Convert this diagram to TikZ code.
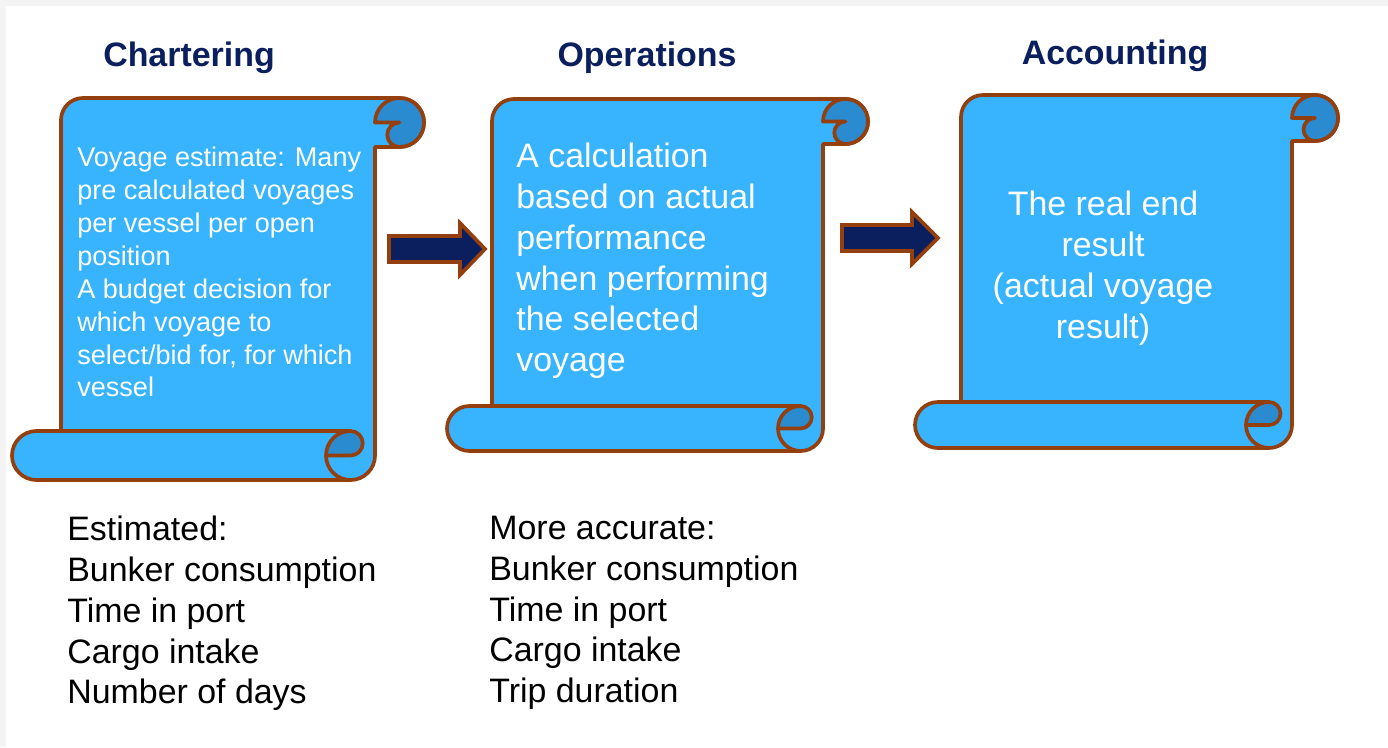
\documentclass[tikz,border=0pt]{standalone}
\usepackage{fontspec}
\setmainfont{Liberation Sans}
\usetikzlibrary{positioning}

\definecolor{scrollblue}{HTML}{38B3FE}
\definecolor{curlblue}{HTML}{2A8BD0}
\definecolor{rimbrown}{HTML}{943F0E}
\definecolor{navy}{HTML}{0B1F5E}
\definecolor{pagegray}{HTML}{F4F4F4}

% scroll: #1 roll left, #2 sheet left, #3 sheet right, #4 top, #5 bottom, #6 roll radius
\newcommand{\drawscroll}[6]{%
  \pgfmathsetmacro\scX{#1}\pgfmathsetmacro\scL{#2}\pgfmathsetmacro\scR{#3}%
  \pgfmathsetmacro\scT{-#4}\pgfmathsetmacro\scB{-#5}%
  \pgfmathsetmacro\scr{#6}\pgfmathsetmacro\sch{#6/2}%
  % sheet and rolls
  \path[scrollbody] (\scL,\scB+2*\scr) -- (\scL,\scT-22) arc (180:90:22)
    -- (\scR+\scr,\scT) arc (90:-90:\scr) -- (\scR,\scT-2*\scr) -- (\scR,\scB+\scr)
    arc (0:-90:\scr) -- (\scX+\scr,\scB) arc (270:90:\scr) -- cycle;
  \draw[scrollrim] (\scX+\scr,\scB+2*\scr) -- (\scR-\scr,\scB+2*\scr);
  % curl at the top
  \path[scrollcurl] (\scR,\scT-\scr) arc (180:-90:\scr) arc (-90:-270:\sch) -- cycle;
  % curl at the bottom
  \path[scrollcurl] (\scR-2*\scr,\scB+\scr) arc (180:90:\scr) arc (90:-90:\sch) -- cycle;
  \draw[scrollrim] (\scR-2*\scr,\scB+\scr) arc (180:270:\scr);
}

\begin{document}
\begin{tikzpicture}[x=0.02cm, y=0.02cm,
    scrollrim/.style={draw=rimbrown, line width=2.1pt, line join=round},
    scrollbody/.style={scrollrim, fill=scrollblue},
    scrollcurl/.style={scrollrim, fill=curlblue},
    blockarrow/.style={draw=rimbrown, line width=2.1pt, fill=navy},
    title/.style={text=navy, font=\bfseries\fontsize{19.3}{23}\selectfont, anchor=base},
    inscroll/.style={text=white, inner sep=0pt, align=left, anchor=north west},
    note/.style={text=black, inner sep=0pt, align=left, anchor=north west,
      font=\fontsize{19.3}{23.2}\selectfont}]
    \useasboundingbox (0,0) rectangle (1388,-747);
    \fill[pagegray] (0,0) rectangle (1388,-747);
    \fill[white] (6,-6) rectangle (1388,-747);

    % titles
    \node[title] (chart) at (189,-66) {Chartering};
    \node[title] (oper) at (647,-66) {Operations};
    \node[title] (acct) at (1115,-64) {Accounting};

    % scrolls
    \drawscroll{12}{61}{375}{98}{480}{24.5}
    \drawscroll{447}{492}{823}{99}{451}{22.5}
    \drawscroll{915}{961}{1292}{95}{448}{23}

    % block arrows
    \draw[blockarrow] (389,-236) -- (460,-236) -- (460,-223) -- (485,-249)
      -- (460,-275) -- (460,-262) -- (389,-262) -- cycle;
    \draw[blockarrow] (842,-225) -- (912,-225) -- (912,-212) -- (938,-238)
      -- (912,-264) -- (912,-251) -- (842,-251) -- cycle;

    % texts on the scrolls
    \node[inscroll, font=\fontsize{15.4}{18.7}\selectfont] (estimate) at (77,-147)
      {Voyage estimate: Many\\pre calculated voyages\\per vessel per open\\position\\A budget decision for\\which voyage to\\select/bid for, for which\\vessel};
    \node[inscroll, font=\fontsize{19.3}{23.2}\selectfont] (calc) at (516,-143)
      {A calculation\\based on actual\\performance\\when performing\\the selected\\voyage};
    \node[inscroll, align=center, anchor=north, font=\fontsize{19.3}{23.2}\selectfont] (result) at (1103,-191)
      {The real end\\result\\(actual voyage\\result)};

    % notes below
    \node[note] (estnote) at (67,-516)
      {Estimated:\\Bunker consumption\\Time in port\\Cargo intake\\Number of days};
    \node[note] (accnote) at (489,-516)
      {More accurate:\\Bunker consumption\\Time in port\\Cargo intake\\Trip duration};
\end{tikzpicture}
\end{document}
